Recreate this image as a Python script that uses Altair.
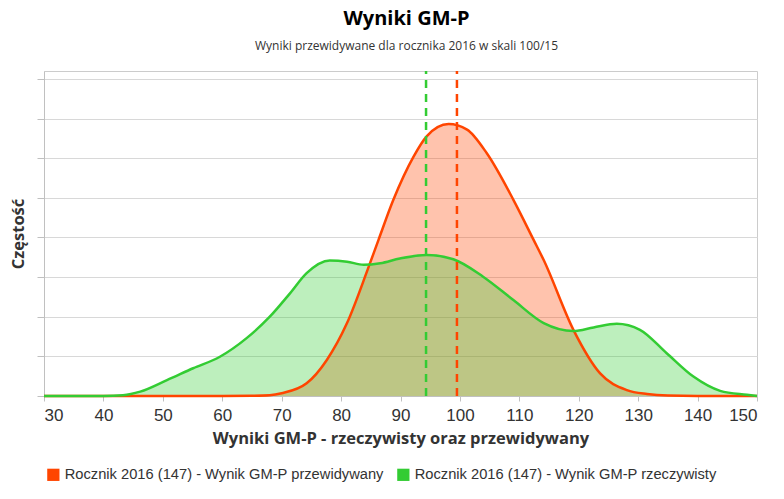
import altair as alt
import pandas as pd

# Series labels
s_pred = "Rocznik 2016 (147) - Wynik GM-P przewidywany"
s_real = "Rocznik 2016 (147) - Wynik GM-P rzeczywisty"

# Predicted (orange) curve
pred_x = [30, 40, 50, 60, 65, 68, 70, 74.2, 77.6, 81, 84.5, 86.3, 88.8, 92.2, 94.4, 98.1,
          101.2, 104.5, 109, 112.4, 114.1, 119.1, 123.6, 128.1, 131.5, 135, 140, 150]
pred_y = [0, 0, 0, 0, 0.005, 0.02, 0.07, 0.32, 0.91, 1.84, 3.2, 3.94, 4.95, 6.04, 6.55, 6.86,
          6.72, 6.13, 4.95, 3.94, 3.43, 1.67, 0.57, 0.15, 0.05, 0.01, 0, 0]

real_x = [30, 40, 43.3, 46.2, 50.7, 55.1, 59.6, 64.1, 68, 71.4, 74.2, 78.1, 81, 83.8, 86.6,
          89.9, 94.4, 98.9, 103.9, 109, 114.1, 119.1, 122.5, 126.4, 130.3, 134.8, 139.3,
          143.8, 148.3, 150]
real_y = [0, 0, 0.02, 0.11, 0.40, 0.70, 0.99, 1.46, 2.0, 2.59, 3.10, 3.42, 3.39, 3.31, 3.35,
          3.47, 3.56, 3.45, 3.01, 2.42, 1.84, 1.64, 1.73, 1.82, 1.67, 1.08, 0.49, 0.13, 0.03, 0]

# Mean lines
mean_series = [s_pred, s_real]
mean_x = [99.5, 94.3]

x_ticks = list(range(30, 151, 10))
y_ticks = list(range(0, 9))

df_pred = pd.DataFrame({"series": s_pred, "x": pred_x, "y": pred_y})
df_real = pd.DataFrame({"series": s_real, "x": real_x, "y": real_y})
means = pd.DataFrame({"series": mean_series, "x": mean_x, "y0": 0, "y1": 8.2})

colors = alt.Scale(domain=[s_pred, s_real], range=["#FF4500", "#33CC33"])
xs = alt.Scale(domain=[30, 150], nice=False)
ys = alt.Scale(domain=[0, 8.2], nice=False)

xaxis = alt.Axis(values=x_ticks, grid=False, title="Wyniki GM-P - rzeczywisty oraz przewidywany",
                 labelFont="Liberation Sans", labelFontSize=17, labelColor="#333333",
                 labelPadding=6, tickColor="#c0c0c0", tickSize=5, domainColor="#c0c0c0",
                 titleFont="Open Sans", titleFontSize=16.5, titleFontWeight="bold",
                 titleColor="#333333", titlePadding=7, labelOverlap=False)
yaxis = alt.Axis(values=y_ticks, labels=False, grid=True, gridColor="#d8d8d8",
                 title="Częstość", titleFont="Open Sans", titleFontSize=16.5,
                 titleFontWeight="bold", titleColor="#333333", titlePadding=10,
                 tickColor="#c0c0c0", tickSize=7, domainColor="#c0c0c0")

legend = alt.Legend(orient="none", legendX=2, legendY=396, direction="horizontal",
                    symbolType="square", symbolSize=150, symbolOpacity=1,
                    symbolStrokeWidth=0, labelFont="Liberation Sans",
                    labelFontSize=14.7, labelColor="#333333", columnPadding=12,
                    labelLimit=400)

X = alt.X("x:Q", scale=xs, axis=xaxis)
C = alt.Color("series:N", scale=colors, title=None, legend=legend)


def area_of(d):
    return alt.Chart(d).mark_area(interpolate="monotone", fillOpacity=0.32).encode(
        x=X, y=alt.Y("y:Q", scale=ys, axis=yaxis, stack=None), color=C)


def line_of(d):
    return alt.Chart(d).mark_line(interpolate="monotone", strokeWidth=2.5).encode(
        x=X, y=alt.Y("y:Q", scale=ys, axis=yaxis), color=C)


rules = alt.Chart(means).mark_rule(strokeWidth=2.5, strokeDash=[8, 6]).encode(
    x=X,
    y=alt.Y("y0:Q", scale=ys, axis=yaxis),
    y2="y1:Q",
    color=C,
)

chart = alt.layer(
    area_of(df_pred), area_of(df_real), line_of(df_pred), line_of(df_real), rules
).properties(
    width=713, height=325,
    title=alt.TitleParams("Wyniki GM-P", subtitle="Wyniki przewidywane dla rocznika 2016 w skali 100/15",
                          font="Open Sans", fontSize=20, fontWeight="bold", color="#000000",
                          subtitleFont="Open Sans", subtitleFontSize=12, subtitleColor="#333333",
                          anchor="middle", offset=18, subtitlePadding=12, dx=6),
    autosize=alt.AutoSizeParams(type="none"),
    padding={"left": 36, "top": 63, "right": 10, "bottom": 90},
).configure_view(stroke="#cccccc", strokeWidth=1)

chart.save("out.html", embed_options={"renderer": "svg", "actions": False})
